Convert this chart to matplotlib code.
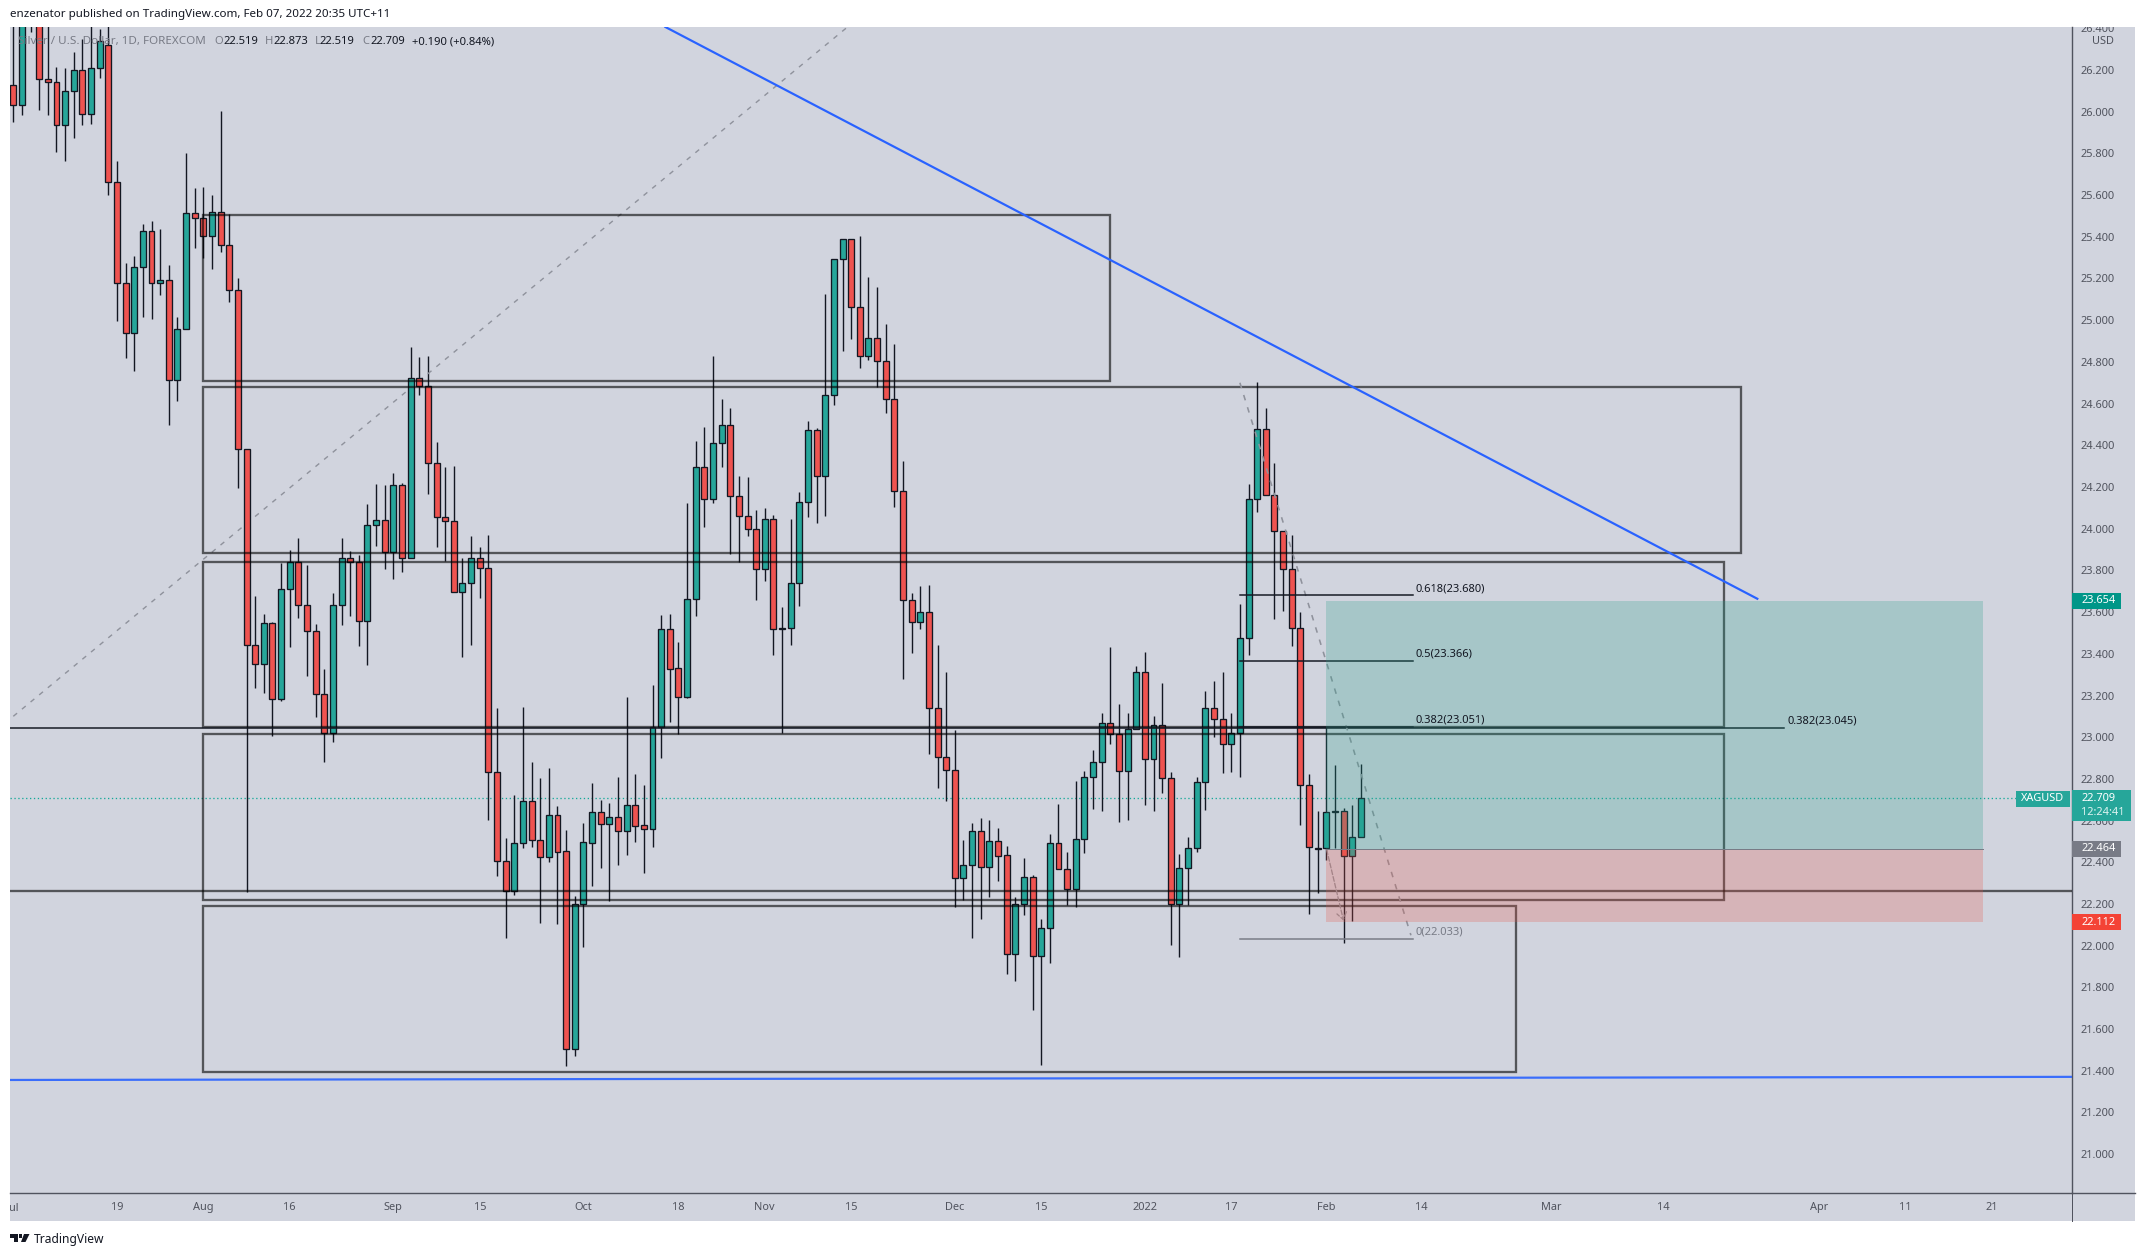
import matplotlib
matplotlib.use("Agg")
import matplotlib.pyplot as plt
from matplotlib.patches import Rectangle, Polygon
from matplotlib.lines import Line2D
from matplotlib.transforms import Bbox

plt.rcParams["font.family"] = "Noto Sans"

# ---------- data ----------
opens = [26.127,26.031,26.90,26.62,26.155,26.141,25.935,26.098,26.199,25.988,
26.208,26.320,25.665,25.177,24.937,25.254,25.427,25.177,25.191,24.712,
24.956,25.513,25.489,25.403,25.518,25.359,25.143,24.381,23.444,23.349,
23.546,23.181,23.709,23.841,23.632,23.507,23.205,23.019,23.632,23.858,
23.839,23.558,24.016,24.040,23.889,24.208,23.858,24.725,24.686,24.314,
24.055,24.035,23.695,23.738,23.858,23.810,22.832,22.404,22.263,22.491,
22.692,22.508,22.427,22.625,22.452,21.503,22.198,22.494,22.639,22.585,
22.615,22.551,22.673,22.577,22.561,23.050,23.518,23.331,23.194,23.662,
24.295,24.141,24.410,24.496,24.156,24.060,23.997,23.806,24.045,23.523,
23.523,23.738,24.127,24.472,24.252,24.640,25.292,25.388,25.062,24.827,
24.913,24.803,24.621,24.180,23.657,23.551,23.599,23.138,22.903,22.841,
22.323,22.385,22.548,22.379,22.500,22.433,21.959,22.198,22.328,21.949,
22.083,22.491,22.366,22.270,22.510,22.808,22.879,23.066,23.014,22.836,
23.039,23.311,22.894,23.057,22.803,22.198,22.371,22.467,22.783,23.138,
23.086,22.966,23.019,23.474,24.141,24.476,24.164,23.988,23.805,23.522,
22.773,22.470,22.467,22.639,22.648,22.428,22.519]
highs = [26.60,26.85,27.0,26.9,26.5,26.213,26.208,26.285,26.35,26.45,
26.395,26.45,25.762,25.273,25.307,25.462,25.476,25.438,25.263,25.014,
25.801,25.633,25.638,25.599,26.002,25.508,25.201,24.381,23.675,23.589,
23.552,23.836,23.896,23.957,23.826,23.541,23.325,23.694,23.954,23.892,
23.874,24.117,24.213,24.209,24.266,24.218,24.870,24.822,24.827,24.415,
24.295,24.300,23.858,23.964,23.911,23.969,23.140,22.517,22.721,23.143,
22.879,22.804,22.852,22.670,22.555,22.238,22.588,22.780,22.699,22.684,
22.809,23.193,22.823,22.770,23.250,23.585,23.590,23.455,24.122,24.421,
24.488,24.829,24.622,24.579,24.253,24.248,24.090,24.098,24.066,23.625,
24.047,24.176,24.517,24.482,25.126,25.292,25.388,25.388,25.404,25.208,
25.160,24.982,24.886,24.325,23.692,23.726,23.730,23.443,23.311,23.034,
22.505,22.588,22.611,22.603,22.564,22.477,22.232,22.421,22.337,22.128,
22.536,22.680,22.448,22.788,22.836,22.939,23.116,23.433,23.159,23.116,
23.341,23.409,23.102,23.260,22.831,22.440,22.521,22.807,23.222,23.270,
23.313,23.116,23.639,24.214,24.704,24.577,24.315,23.988,23.972,23.599,
22.823,22.647,23.047,22.867,22.659,22.674,22.873]
lows = [25.952,25.984,26.384,26.008,25.984,25.809,25.765,25.876,25.936,25.941,
26.162,25.601,24.998,24.821,24.758,25.017,25.006,25.121,24.497,24.614,
24.956,25.348,25.300,25.247,25.329,25.089,24.197,22.258,23.238,23.212,
23.007,23.173,23.433,23.574,23.295,23.098,22.882,22.978,23.540,23.582,
23.438,23.348,23.918,23.809,23.760,23.793,23.858,24.642,24.168,23.910,
23.846,23.695,23.385,23.444,23.670,22.604,22.334,22.039,22.245,22.470,
22.475,22.110,22.403,22.105,21.424,21.472,21.995,22.286,22.374,22.216,
22.388,22.435,22.499,22.350,22.475,22.902,23.074,23.017,23.189,23.579,
24.010,24.125,24.298,23.881,23.838,23.967,23.660,23.751,23.392,23.021,
23.444,23.627,24.058,24.029,24.063,24.594,24.850,24.912,24.773,24.810,
24.680,24.557,24.106,23.281,23.406,23.521,22.921,22.758,22.695,22.187,
22.220,22.038,22.129,22.233,22.312,21.866,21.832,22.149,21.693,21.429,
21.919,22.366,22.197,22.184,22.446,22.657,22.648,22.969,22.595,22.604,
23.039,22.676,22.648,22.734,22.005,21.947,22.197,22.451,22.652,23.003,
22.830,22.835,22.811,23.395,24.082,24.164,23.568,23.605,23.439,22.580,
22.153,22.254,22.411,22.467,22.011,22.118,22.519]
closes = [26.031,26.60,26.62,26.155,26.141,25.935,26.098,26.199,25.988,26.208,
26.339,25.665,25.177,24.937,25.254,25.427,25.177,25.191,24.712,24.956,
25.513,25.489,25.403,25.518,25.359,25.143,24.381,23.444,23.349,23.546,
23.181,23.709,23.841,23.632,23.507,23.205,23.019,23.632,23.858,23.839,
23.558,24.016,24.040,23.889,24.208,23.858,24.725,24.686,24.314,24.055,
24.035,23.695,23.738,23.858,23.810,22.832,22.404,22.263,22.491,22.692,
22.508,22.427,22.625,22.451,21.503,22.198,22.496,22.639,22.585,22.615,
22.551,22.673,22.575,22.561,23.050,23.518,23.328,23.194,23.662,24.295,
24.141,24.410,24.496,24.156,24.060,23.997,23.806,24.045,23.518,23.519,
23.738,24.127,24.472,24.252,24.640,25.292,25.388,25.062,24.827,24.913,
24.803,24.621,24.180,23.657,23.551,23.599,23.138,22.903,22.841,22.323,
22.385,22.548,22.379,22.500,22.432,21.959,22.198,22.328,21.949,22.083,
22.491,22.366,22.270,22.510,22.808,22.879,23.066,23.014,22.836,23.039,
23.311,22.894,23.057,22.803,22.198,22.371,22.467,22.783,23.138,23.086,
22.966,23.019,23.474,24.141,24.476,24.164,23.988,23.805,23.522,22.773,
22.472,22.466,22.639,22.648,22.428,22.520,22.709]

zone_left = [22, 22, 22, 22, 22]
zone_right = [127, 200, 198, 198, 174]
zone_top = [25.505, 24.681, 23.841, 23.016, 22.190]
zone_bottom = [24.710, 23.884, 23.050, 22.219, 21.394]

price_ticks = [21.0 + 0.2 * k for k in range(28)]
time_pos = [0, 12, 22, 32, 44, 54, 66, 77, 87, 97, 109, 119, 131, 141, 152, 163, 178, 191, 209, 219, 229]
time_lab = ["Jul", "19", "Aug", "16", "Sep", "15", "Oct", "18", "Nov", "15", "Dec", "15",
            "2022", "17", "Feb", "14", "Mar", "14", "Apr", "11", "21"]

fib_levels = [23.680, 23.366, 23.051, 22.033]
fib_names = ["0.618(23.680)", "0.5(23.366)", "0.382(23.051)", "0(22.033)"]
fib_start, fib_end = 142, 162
fib2_level, fib2_name, fib2_end = 23.045, "0.382(23.045)", 205
support_level = 22.262
last_price = 22.709
stop_price, entry_price, target_price = 22.112, 22.464, 23.654
pos_left, pos_right = 152, 228

trend_x = [75.5, 201.9]
trend_y = [26.406, 23.664]
floor_x = [-1, 239]
floor_y = [21.356, 21.371]
dash1_x = [-1, 98]
dash1_y = [23.066, 26.455]
dash2_x = [142, 161.8]
dash2_y = [24.70, 22.05]
dash3_x = [152.05, 154.0]
dash3_y = [22.46, 22.12]

# ---------- figure ----------
W, H = 2145, 1256
BG = "#d1d4de"
AX = "#50535e"
TXT = "#50535e"
GREEN, RED, DARK = "#26a69a", "#ef5350", "#131722"
PX = 0.72

fig = plt.figure(figsize=(W / 100, H / 100), dpi=100, facecolor="white")

def fx(x): return x / W
def fy(y): return 1 - y / H

def ftext(x, y, s, size=8, color=TXT, ha="left", **kw):
    return fig.text(fx(x), fy(y), s, fontsize=size, color=color, ha=ha, va="center", **kw)

def frect(x0, y0, x1, y1, color, **kw):
    r = Rectangle((fx(x0), fy(y1)), fx(x1 - x0), (y1 - y0) / H, transform=fig.transFigure,
                  facecolor=color, edgecolor="none", **kw)
    fig.add_artist(r)
    return r

frect(10, 27, 2135, 1221, BG, zorder=-5)

L, R, T, B = 10, 2071.7, 27, 1193
ax = fig.add_axes([fx(L), fy(B), (R - L) / W, (B - T) / H])
ax.patch.set_visible(False)
ax.set_xlim((L - 13.3) / 8.638, (R - 13.3) / 8.638)
ax.set_ylim(22 + (945.7 - B) / 208.5, 22 + (945.7 - T) / 208.5)

idx = list(range(len(opens)))
assert len(opens) == len(highs) == len(lows) == len(closes) == 157

ax.vlines(idx, lows, highs, color=DARK, lw=1.0, zorder=3)
body_bottom = [min(o, c) for o, c in zip(opens, closes)]
body_height = [abs(o - c) for o, c in zip(opens, closes)]
body_color = [GREEN if c >= o else RED for o, c in zip(opens, closes)]
ax.bar(idx, body_height, bottom=body_bottom, width=0.69, color=body_color,
       edgecolor=DARK, linewidth=0.95, zorder=4)

for l, r, t, b in zip(zone_left, zone_right, zone_top, zone_bottom):
    ax.add_patch(Rectangle((l, b), r - l, t - b, fill=False, edgecolor="#000000",
                           alpha=0.6, lw=2.3 * PX, zorder=5))

ax.axhline(support_level, color="#000000", alpha=0.6, lw=2.3 * PX, zorder=5)
ax.plot([-1, fib2_end], [fib2_level, fib2_level], color=DARK, lw=1.5 * PX, zorder=5)

ax.plot(trend_x, trend_y, color="#2962ff", lw=2.2 * PX, zorder=6)
ax.plot(floor_x, floor_y, color="#2962ff", lw=2.2 * PX, zorder=6, alpha=0.9)
dash = (0, (3.5, 4.5))
ax.plot(dash1_x, dash1_y, color="#8f929c", lw=1.4 * PX, ls=dash, zorder=3)
ax.plot(dash2_x, dash2_y, color="#8f929c", lw=1.6 * PX, ls=dash, zorder=6)
ax.annotate("", xy=(dash3_x[1], dash3_y[1]), xytext=(dash3_x[0], dash3_y[0]),
            arrowprops=dict(arrowstyle="->,head_length=0.5,head_width=0.35", color="#8f929c",
                            lw=1.3 * PX, ls="--", shrinkA=0, shrinkB=0), zorder=6)

fib_colors = [DARK, DARK, DARK, "#787b86"]
for lv, c in zip(fib_levels, fib_colors):
    ax.plot([fib_start, fib_end], [lv, lv], color=c, lw=1.5 * PX, zorder=6)

ax.plot([ax.get_xlim()[0], (2015.7 - 13.3) / 8.638], [last_price, last_price],
        color="#14a898", lw=1.3 * PX, ls=(0, (1, 2)), zorder=2)

ax.add_patch(Rectangle((pos_left, entry_price), pos_right - pos_left, target_price - entry_price,
                       facecolor="#26a08a", alpha=0.25, edgecolor="none", zorder=7))
ax.add_patch(Rectangle((pos_left, stop_price), pos_right - pos_left, entry_price - stop_price,
                       facecolor="#e5584a", alpha=0.25, edgecolor="none", zorder=7))
ax.plot([pos_left, pos_right], [entry_price, entry_price], color="#787b86", lw=1 * PX, zorder=8)

for s in ("left", "top"):
    ax.spines[s].set_visible(False)
for s in ("right", "bottom"):
    ax.spines[s].set_color(AX)
    ax.spines[s].set_linewidth(1.4 * PX)

ax.yaxis.tick_right()
ax.set_yticks(price_ticks)
ax.set_yticklabels([f"{p:.3f}" for p in price_ticks])
ax.set_xticks(time_pos)
ax.set_xticklabels(time_lab)
ax.tick_params(axis="y", length=0, pad=6.6, labelsize=7.9, labelcolor=TXT)
ax.tick_params(axis="x", length=0, pad=6.2, labelsize=7.9, labelcolor=TXT)
clip = Bbox([[10, 0], [2135, H - 27]])
for lb in ax.get_yticklabels() + ax.get_xticklabels():
    lb.set_clip_box(clip)
    lb.set_clip_on(True)

fig.add_artist(Line2D([fx(R), fx(R)], [fy(B), fy(1221)], color=AX, lw=1 * PX, transform=fig.transFigure))
fig.add_artist(Line2D([fx(R), fx(2135)], [fy(B), fy(B)], color=AX, lw=1.4 * PX, transform=fig.transFigure))

# ---------- drawing labels ----------
def yp(p): return 945.7 - (p - 22) * 208.5

for lv, name, c in zip(fib_levels, fib_names, [DARK, DARK, DARK, "#787b86"]):
    ftext(1416, yp(lv) - 6.5, name, size=8, color=c)
ftext(1788, yp(fib2_level) - 6.5, fib2_name, size=8, color=DARK)

# ---------- price labels ----------
ftext(2103, 41.7, "USD", size=7.9, ha="center")
frect(2071.7, yp(target_price) - 8, 2120.7, yp(target_price) + 8, "#009688")
ftext(2081, yp(target_price), f"{target_price:.3f}", size=7.9, color="white")
frect(2071.7, yp(entry_price) - 8, 2120.7, yp(entry_price) + 8, "#787b86")
ftext(2081, yp(entry_price), f"{entry_price:.3f}", size=7.9, color="white")
frect(2071.7, yp(stop_price) - 8, 2120.7, yp(stop_price) + 8, "#f44336")
ftext(2081, yp(stop_price), f"{stop_price:.3f}", size=7.9, color="white")
frect(2071.7, 790, 2130.6, 821, GREEN)
ftext(2081, 798.7, f"{last_price:.3f}", size=7.9, color="white")
ftext(2081, 812.7, "12:24:41", size=7.9, color="#dff3f1")
frect(2015.7, 790.7, 2069.8, 806.7, GREEN)
ftext(2042.5, 798.7, "XAGUSD", size=7.9, color="white", ha="center")

# ---------- header / legend / footer ----------
ftext(10, 15, "enzenator published on TradingView.com, Feb 07, 2022 20:35 UTC+11", size=8.35, color=DARK)
GREY = "#787b86"
ftext(18, 41.7, "Silver / U.S. Dollar, 1D, FOREXCOM", size=8.4, color=GREY)
for x, s in [(214, "O"), (265, "H"), (315, "L"), (362.7, "C")]:
    ftext(x, 41.7, s, size=8.1, color=GREY)
for x, s in [(223, "22.519"), (273, "22.873"), (319.5, "22.519"), (370, "22.709"), (412.3, "+0.190 (+0.84%)")]:
    ftext(x, 41.7, s, size=8.1, color=DARK)

def poly(pts):
    fig.add_artist(Polygon([(fx(x), fy(y)) for x, y in pts], closed=True, transform=fig.transFigure,
                           facecolor=DARK, edgecolor="none"))
poly([(10, 1234), (18, 1234), (18, 1242), (14, 1242), (14, 1238), (10, 1238)])
poly([(24, 1234), (29.5, 1234), (25.5, 1242), (21, 1242)])
fig.add_artist(Rectangle((fx(18.7), fy(1238)), fx(3.2), 4 / H, transform=fig.transFigure,
                         facecolor=DARK, edgecolor="none"))
ftext(33.5, 1239.5, "TradingView", size=8.7, color=DARK)

fig.savefig("out.png", dpi=100)
